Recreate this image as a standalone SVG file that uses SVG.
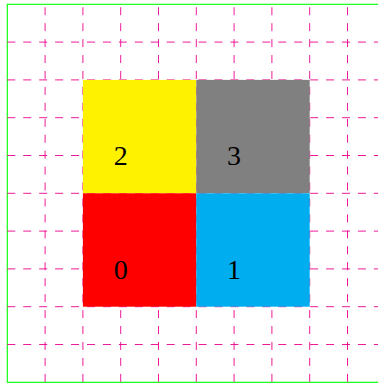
<svg xmlns="http://www.w3.org/2000/svg" width="378" height="383" viewBox="0 0 378 383">
<style>
.grid line{stroke:#EC008C;stroke-width:0.9;stroke-dasharray:7.97 7.97;fill:none}
.v{stroke-dashoffset:13}
.cell{stroke:none}
.lbl{font-family:"Liberation Serif","DejaVu Serif",serif;font-size:28px;text-anchor:middle;fill:#000}
</style>
<rect width="378" height="383" fill="#fff"/>
<rect id="frame" x="7.3" y="4.3" width="378" height="378" fill="none" stroke="#00FF00" stroke-width="1.1"/>
<g id="connectors" class="grid">
<line x1="7.3" y1="42.1" x2="385.3" y2="42.1"/>
<line x1="7.3" y1="79.9" x2="385.3" y2="79.9"/>
<line x1="7.3" y1="117.7" x2="385.3" y2="117.7"/>
<line x1="7.3" y1="155.5" x2="385.3" y2="155.5"/>
<line x1="7.3" y1="193.3" x2="385.3" y2="193.3"/>
<line x1="7.3" y1="231.1" x2="385.3" y2="231.1"/>
<line x1="7.3" y1="268.9" x2="385.3" y2="268.9"/>
<line x1="7.3" y1="306.7" x2="385.3" y2="306.7"/>
<line x1="7.3" y1="344.5" x2="385.3" y2="344.5"/>
<line class="v" x1="45.1" y1="4.3" x2="45.1" y2="382.3"/>
<line class="v" x1="82.9" y1="4.3" x2="82.9" y2="382.3"/>
<line class="v" x1="120.7" y1="4.3" x2="120.7" y2="382.3"/>
<line class="v" x1="158.5" y1="4.3" x2="158.5" y2="382.3"/>
<line class="v" x1="196.3" y1="4.3" x2="196.3" y2="382.3"/>
<line class="v" x1="234.1" y1="4.3" x2="234.1" y2="382.3"/>
<line class="v" x1="271.9" y1="4.3" x2="271.9" y2="382.3"/>
<line class="v" x1="309.7" y1="4.3" x2="309.7" y2="382.3"/>
<line class="v" x1="347.5" y1="4.3" x2="347.5" y2="382.3"/>
</g>
<g id="node2"><rect class="cell" x="82.9" y="79.9" width="113.4" height="113.4" fill="#FFF200"/><text class="lbl" x="120.7" y="165.3">2</text></g>
<g id="node3"><rect class="cell" x="196.3" y="79.9" width="113.4" height="113.4" fill="#808080"/><text class="lbl" x="234.1" y="165.3">3</text></g>
<g id="node0"><rect class="cell" x="82.9" y="193.3" width="113.4" height="113.4" fill="#FF0000"/><text class="lbl" x="120.7" y="278.7">0</text></g>
<g id="node1"><rect class="cell" x="196.3" y="193.3" width="113.4" height="113.4" fill="#00AEEF"/><text class="lbl" x="234.1" y="278.7">1</text></g>
</svg>
